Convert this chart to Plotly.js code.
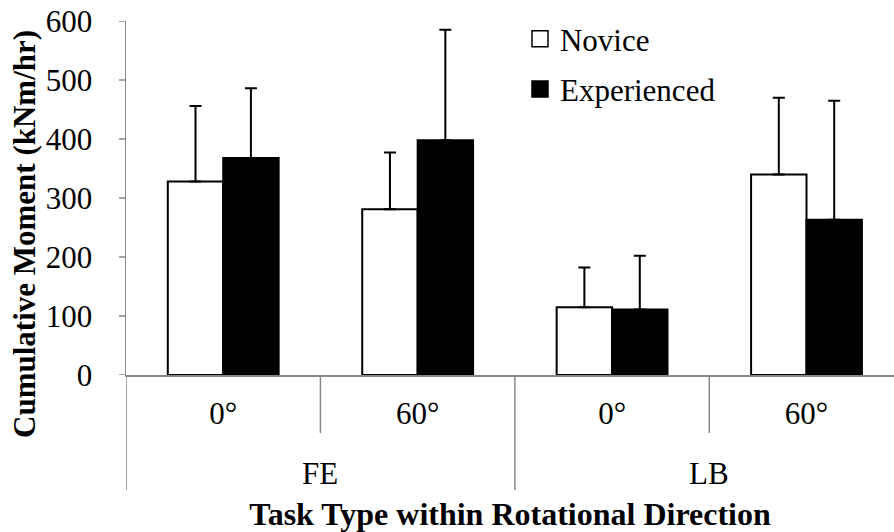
<!DOCTYPE html>
<html><head><meta charset="utf-8">
<script src="https://cdn.plot.ly/plotly-3.0.1.min.js"></script>
<style>html,body{margin:0;padding:0;background:#fff}</style></head>
<body><div id="chart" style="width:894px;height:532px"></div>
<script>
const directions = ["FE", "FE", "LB", "LB"];
const angles = ["0°", "60°", "0°", "60°"];
const seriesNames = ["Novice", "Experienced"];
const novice = [328, 281, 115, 340];
const noviceSD = [128, 96, 67, 130];
const experienced = [368, 398, 111, 263];
const experiencedSD = [118, 187, 91, 202];
const yTicks = [0, 100, 200, 300, 400, 500, 600];
const xTitle = "Task Type within Rotational Direction";
const yTitle = "Cumulative Moment (kNm/hr)";

const FONT = "Liberation Serif";
const AXIS = "#878787";
const PLOT_W = 768, PLOT_H = 354;
const xRange = [-0.5, 3.45];
const zeros = novice.map(() => 0);
const keys = directions.map((d, i) => d + " " + angles[i]);

function barTrace(name, y, err, fill) {
  return {
    type: "bar", name: name, x: keys, y: y,
    marker: {color: fill, line: {color: "#000", width: 2}},
    error_y: {type: "data", symmetric: false, array: err, arrayminus: zeros,
              color: "#000", thickness: 2, width: 6},
    showlegend: false, hoverinfo: "skip"
  };
}
function legendTrace(name, fill, grp) {
  return {
    type: "scatter", mode: "markers", name: name, legendgroup: grp,
    x: [keys[0]], y: [null],
    marker: {symbol: "square", size: 16, color: fill, line: {color: "#000", width: 1.5}},
    hoverinfo: "skip"
  };
}

const traces = [
  barTrace(seriesNames[0], novice, noviceSD, "#fff"),
  barTrace(seriesNames[1], experienced, experiencedSD, "#000"),
  legendTrace(seriesNames[0], "#fff", "a"),
  legendTrace(seriesNames[1], "#000", "b")
];

const shapes = [];
const annotations = [];
// visible short y-axis tick marks (labels are spaced by a transparent longer tick)
yTicks.forEach(v => shapes.push({type: "line", xref: "paper", yref: "y",
  x0: -7 / PLOT_W, x1: 0, y0: v, y1: v, line: {color: AXIS, width: 1.5}}));
// category boundaries: short lines between angles, long lines between directions
const divider = (x, len) => ({type: "line", xref: "x", yref: "paper", x0: x, x1: x,
  y0: 0, y1: -len / PLOT_H, line: {color: AXIS, width: 1.5}});
shapes.push(divider(-0.5, 115));
for (let i = 0; i < directions.length; i++) {
  const last = i === directions.length - 1;
  if (last || directions[i] !== directions[i + 1]) shapes.push(divider(i + 0.5, 115));
  else shapes.push(divider(i + 0.5, 58));
}
// outer (direction) labels centred under their group
const groups = [...new Set(directions)];
groups.forEach(g => {
  const idx = directions.map((d, i) => d === g ? i : null).filter(v => v !== null);
  const mid = idx.reduce((a, b) => a + b, 0) / idx.length;
  annotations.push({xref: "x", yref: "paper", x: mid, y: -98 / PLOT_H,
    text: g, showarrow: false, xanchor: "center", yanchor: "middle",
    font: {family: FONT, size: 31, color: "#000"}});
});
// y-axis title
annotations.push({xref: "paper", yref: "paper", x: -101 / PLOT_W, y: (375 - 234) / PLOT_H,
  text: yTitle, textangle: -90, showarrow: false, xanchor: "center", yanchor: "middle",
  font: {family: FONT, size: 31, color: "#000", weight: 700}});

const layout = {
  width: 894, height: 532,
  margin: {l: 126, r: 0, t: 21, b: 157},
  paper_bgcolor: "#fff", plot_bgcolor: "#fff",
  font: {family: FONT, size: 31, color: "#000"},
  barmode: "group", bargap: 0.43, bargroupgap: 0,
  showlegend: true,
  legend: {x: 0.513, xanchor: "left", y: 1.025, yanchor: "top",
           font: {family: FONT, size: 31, color: "#000"},
           bgcolor: "rgba(0,0,0,0)", tracegroupgap: 7, itemclick: false},
  xaxis: {
    type: "category", categoryorder: "array", categoryarray: keys,
    tickvals: keys, ticktext: angles,
    range: xRange, autorange: false,
    showline: true, linecolor: AXIS, linewidth: 1.5,
    ticks: "", showgrid: false, zeroline: false,
    tickfont: {family: FONT, size: 31, color: "#000"},
    ticklabelstandoff: 10,
    title: {text: xTitle,
            font: {family: FONT, size: 32, color: "#000", weight: 700}, standoff: 74},
    automargin: false
  },
  yaxis: {
    range: [0, 600], autorange: false, tickvals: yTicks,
    showline: true, linecolor: AXIS, linewidth: 1.5,
    ticks: "outside", ticklen: 26, tickcolor: "rgba(0,0,0,0)", tickwidth: 1,
    showgrid: false, zeroline: false,
    tickfont: {family: FONT, size: 31, color: "#000"},
    automargin: false
  },
  shapes: shapes,
  annotations: annotations
};

Plotly.newPlot("chart", traces, layout, {displayModeBar: false, staticPlot: true});
</script></body></html>
